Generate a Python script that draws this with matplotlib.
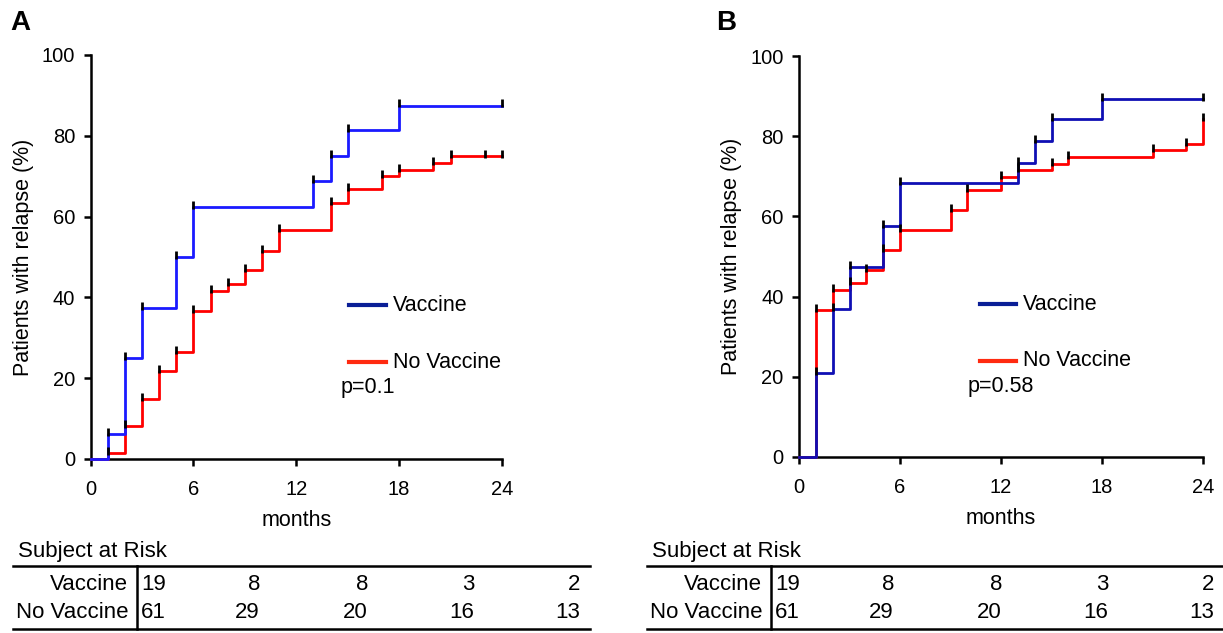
import matplotlib
matplotlib.use("Agg")
import matplotlib.pyplot as plt
from matplotlib.lines import Line2D
from matplotlib.transforms import Affine2D

plt.rcParams['font.family'] = ['Liberation Sans', 'DejaVu Sans']

# Panel A data (months, % relapse)
a_vac_t = [0, 1, 2, 3, 5, 6, 13, 14, 15, 18, 24]
a_vac_v = [0, 6.2, 25.1, 37.3, 49.9, 62.4, 68.8, 74.9, 81.4, 87.5, 87.5]
a_nov_t = [0, 1, 2, 3, 4, 5, 6, 7, 8, 9, 10, 11, 14, 15, 17, 18, 20, 21, 23, 24]
a_nov_v = [0, 1.6, 8.2, 14.9, 21.7, 26.5, 36.7, 41.6, 43.4, 46.8, 51.5, 56.6,
           63.4, 66.8, 70.0, 71.6, 73.2, 74.9, 74.9, 74.9]

# Panel B data
b_vac_t = [0, 1, 2, 3, 5, 6, 13, 14, 15, 18, 24]
b_vac_v = [0, 21.0, 36.9, 47.3, 57.7, 68.4, 73.4, 78.9, 84.2, 89.3, 89.3]
b_nov_t = [0, 1, 2, 3, 4, 5, 6, 9, 10, 12, 13, 15, 16, 21, 23, 24]
b_nov_v = [0, 36.6, 41.6, 43.3, 46.6, 51.7, 56.7, 61.6, 66.7, 69.8, 71.5,
           73.1, 74.8, 76.5, 78.1, 84.4]

# subjects at risk
risk_groups = ['Vaccine', 'No Vaccine']
risk_vac = [19, 8, 8, 3, 2]
risk_nov = [61, 29, 20, 16, 13]

W, H = 1223, 633
fig = plt.figure(figsize=(W / 100, H / 100), dpi=100)
px = Affine2D().scale(1 / W, -1 / H).translate(0, 1) + fig.transFigure


def km_panel(ax, vt, vv, nt, nv, vac_color, pval, leg_x, p_x):
    ax.step(nt, nv, where='post', color='#ff0000', lw=2.0, clip_on=False, zorder=3)
    ax.step(vt, vv, where='post', color=vac_color, lw=2.0, clip_on=False, zorder=4)
    for t, v in ((nt, nv), (vt, vv)):
        ax.plot(t[1:], [y + 0.5 for y in v[1:]], ls='none', marker='|',
                ms=6, mew=2, color='black', clip_on=False, zorder=5)
    ax.set_xlim(0, 24)
    ax.set_ylim(0, 100)
    ax.set_xticks([0, 6, 12, 18, 24])
    ax.set_yticks([0, 20, 40, 60, 80, 100])
    for s in ('top', 'right'):
        ax.spines[s].set_visible(False)
    for s in ('left', 'bottom'):
        ax.spines[s].set_linewidth(1.8)
    ax.tick_params(direction='out', length=5, width=1.8, labelsize=14.5)
    ax.tick_params(axis='x', pad=10)
    ax.tick_params(axis='y', pad=6)
    ax.set_xlabel('months', fontsize=15.5, labelpad=8)
    ax.set_ylabel('Patients with relapse (%)', fontsize=15.5, labelpad=6)
    # legend drawn by hand
    ax.plot([leg_x, leg_x + 0.09], [0.381, 0.381], transform=ax.transAxes,
            color='#0a1e96', lw=3, clip_on=False)
    ax.plot([leg_x, leg_x + 0.09], [0.240, 0.240], transform=ax.transAxes,
            color='#ff2a10', lw=3, clip_on=False)
    ax.text(leg_x + 0.107, 0.381, 'Vaccine', transform=ax.transAxes,
            fontsize=15.5, va='center')
    ax.text(leg_x + 0.107, 0.240, 'No Vaccine', transform=ax.transAxes,
            fontsize=15.5, va='center')
    ax.text(p_x, 0.176, pval, transform=ax.transAxes, fontsize=15.5, va='center')


axA = fig.add_axes([90.5 / W, 1 - 459 / H, 411.5 / W, 404 / H])
km_panel(axA, a_vac_t, a_vac_v, a_nov_t, a_nov_v, '#1a1aff', 'p=0.1', 0.628, 0.608)
axB = fig.add_axes([799 / W, 1 - 457 / H, 404 / W, 401 / H])
km_panel(axB, b_vac_t, b_vac_v, b_nov_t, b_nov_v, '#0f0fb4', 'p=0.58', 0.448, 0.416)

fig.text(10, 23, 'A', transform=px, fontsize=20, fontweight='bold', va='center')
fig.text(716, 23, 'B', transform=px, fontsize=20, fontweight='bold', va='center')


def risk_table(off):
    fig.text(18 + off, 551, 'Subject at Risk', transform=px, fontsize=16, va='center')
    for y in (566, 629):
        fig.add_artist(Line2D([13 + off, 590 + off], [y, y], transform=px,
                              color='black', lw=1.8))
    fig.add_artist(Line2D([137 + off, 137 + off], [566, 629], transform=px,
                          color='black', lw=1.8))
    col_x = [260, 368, 474, 580]
    for row_y, name, vals in ((585, risk_groups[0], risk_vac),
                              (612, risk_groups[1], risk_nov)):
        fig.text(128 + off, row_y, name, transform=px, fontsize=16,
                 ha='right', va='center')
        fig.text(141 + off, row_y, str(vals[0]), transform=px, fontsize=16,
                 ha='left', va='center')
        for cx, v in zip(col_x, vals[1:]):
            fig.text(cx + off, row_y, str(v), transform=px, fontsize=16,
                     ha='right', va='center')


risk_table(0)
risk_table(634)

fig.savefig('out.png', dpi=100)
